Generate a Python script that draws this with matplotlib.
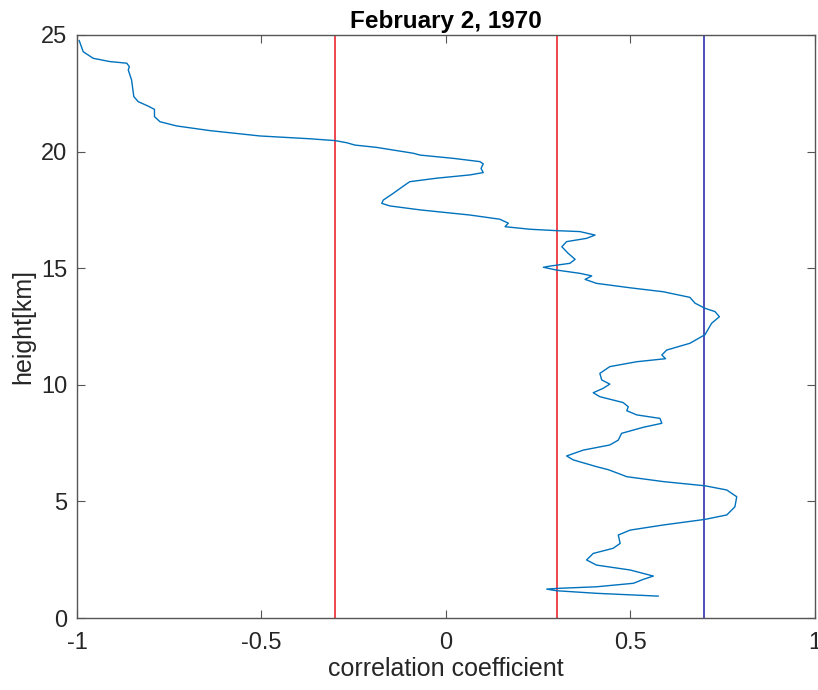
"""
Correlation coefficient profile vs height, February 2, 1970.
"""
import matplotlib
matplotlib.use("Agg")
import matplotlib.pyplot as plt

# correlation coefficient (x), top of profile downwards
corr = [
    -0.994, -0.983, -0.956, -0.911, -0.865, -0.858, -0.861, -0.852, -0.846,
    -0.834, -0.807, -0.790, -0.790, -0.775, -0.730, -0.640, -0.504, -0.369,
    -0.300, -0.269, -0.247, -0.188, -0.089, -0.070, 0.020, 0.092, 0.101,
    0.095, 0.101, 0.065, -0.025, -0.098, -0.111, -0.143, -0.170, -0.174,
    -0.152, -0.070, 0.065, 0.146, 0.169, 0.160, 0.228, 0.300, 0.363,
    0.404, 0.381, 0.327, 0.314, 0.331, 0.350, 0.336, 0.282, 0.264,
    0.300, 0.363, 0.395, 0.377, 0.408, 0.499, 0.589, 0.661, 0.675,
    0.702, 0.729, 0.741, 0.720, 0.702, 0.661, 0.598, 0.585, 0.595,
    0.517, 0.444, 0.417, 0.422, 0.444, 0.426, 0.399, 0.417, 0.480,
    0.494, 0.490, 0.517, 0.580, 0.585, 0.535, 0.476, 0.467, 0.444,
    0.372, 0.327, 0.345, 0.408, 0.440, 0.467, 0.490, 0.589, 0.702,
    0.761, 0.788, 0.783, 0.761, 0.702, 0.589, 0.499, 0.467, 0.472,
    0.453, 0.399, 0.381, 0.408, 0.499, 0.562, 0.535, 0.508, 0.408,
    0.300, 0.273, 0.300, 0.408, 0.575,
]
# height in km
height = [
    24.76, 24.28, 24.00, 23.86, 23.79, 23.64, 23.50, 23.07, 22.36,
    22.14, 21.95, 21.81, 21.50, 21.28, 21.10, 20.90, 20.67, 20.55,
    20.47, 20.38, 20.28, 20.18, 19.93, 19.85, 19.71, 19.57, 19.47,
    19.28, 19.10, 19.00, 18.86, 18.71, 18.57, 18.21, 17.92, 17.78,
    17.67, 17.50, 17.28, 17.10, 16.93, 16.78, 16.67, 16.61, 16.57,
    16.42, 16.28, 16.14, 15.92, 15.64, 15.38, 15.21, 15.09, 15.04,
    14.92, 14.78, 14.67, 14.52, 14.35, 14.16, 13.99, 13.75, 13.50,
    13.28, 13.14, 12.92, 12.64, 12.15, 11.78, 11.49, 11.28, 11.12,
    10.99, 10.78, 10.49, 10.21, 10.03, 9.85, 9.66, 9.49, 9.24,
    9.06, 8.89, 8.71, 8.56, 8.35, 8.18, 7.92, 7.63, 7.42,
    7.20, 6.95, 6.78, 6.49, 6.36, 6.20, 6.06, 5.85, 5.67,
    5.49, 5.20, 4.77, 4.42, 4.23, 3.99, 3.77, 3.56, 3.20,
    2.99, 2.77, 2.49, 2.27, 2.06, 1.80, 1.66, 1.49, 1.34,
    1.27, 1.24, 1.17, 1.06, 0.94,
]
significance_levels = [-0.3, 0.3]
threshold = 0.7

plt.rcParams["font.family"] = ["Liberation Sans", "DejaVu Sans"]

fig = plt.figure(figsize=(8.18, 6.9), dpi=100)
ax = fig.add_axes([0.0941, 0.1043, 0.9022, 0.845])

for lvl in significance_levels:
    ax.axvline(lvl, color="#e8141e", linewidth=1.1)
ax.axvline(threshold, color="#1f1fa8", linewidth=1.1)
ax.plot(corr, height, color="#0072BD", linewidth=1.0, solid_joinstyle="round")

ax.set_xlim(-1, 1)
ax.set_ylim(0, 25)
ax.set_xticks([-1, -0.5, 0, 0.5, 1])
ax.set_xticklabels(["-1", "-0.5", "0", "0.5", "1"])
ax.set_yticks([0, 5, 10, 15, 20, 25])

gray = "#262626"
for s in ax.spines.values():
    s.set_color("#555555")
    s.set_linewidth(1.0)
ax.tick_params(direction="in", length=6, width=0.8, colors="#555555",
               labelcolor=gray, labelsize=17, top=True, right=True)
ax.tick_params(axis="x", pad=10)
ax.tick_params(axis="y", pad=7)

ax.set_xlabel("correlation coefficient", fontsize=18, color=gray, labelpad=2)
ax.set_ylabel("height[km]", fontsize=18, color=gray, labelpad=4)
ax.set_title("February 2, 1970", fontsize=17.5, fontweight="bold", pad=5)

fig.savefig("out.png", dpi=100)
plt.close(fig)
